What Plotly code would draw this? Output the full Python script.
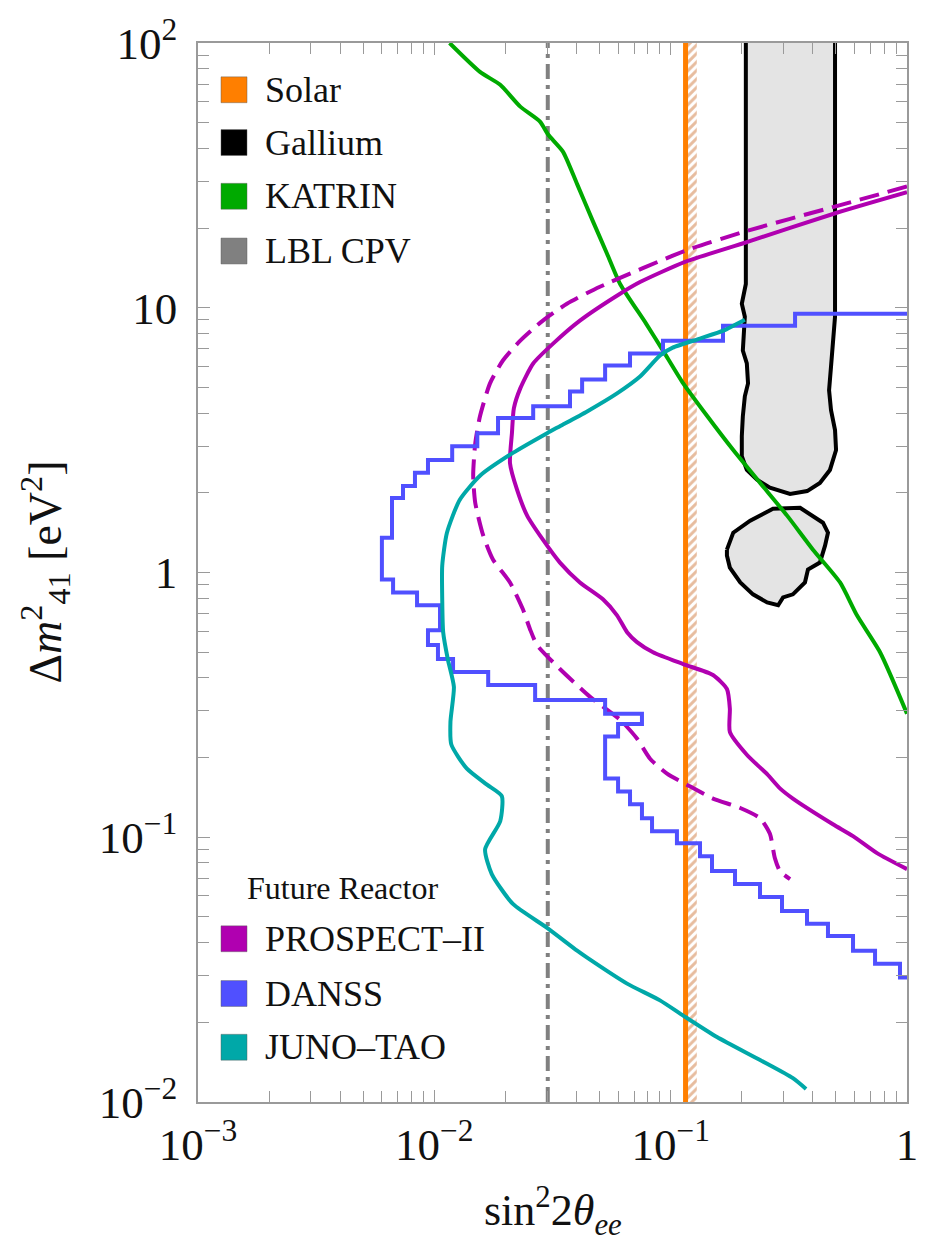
import plotly.graph_objects as go

# ---------------- data (sin^2 2theta_ee , Delta m^2_41 [eV^2]) ----------------
x_limits = [1e-3, 1.0]
y_limits = [1e-2, 1e2]

x_tickvals = [1e-3, 1e-2, 1e-1, 1.0]
x_ticktext = ["10<sup>\u22123</sup>", "10<sup>\u22122</sup>", "10<sup>\u22121</sup>", "1"]
y_tickvals = [1e-2, 1e-1, 1.0, 10.0, 100.0]
y_ticktext = ["10<sup>\u22122</sup>", "10<sup>\u22121</sup>", "1", "10", "10<sup>2</sup>"]

solar_x = 0.1156
solar_band = [0.117, 0.129]
lbl_cpv_x = 0.0302

katrin_x = [0.0116, 0.0156, 0.0190, 0.0231, 0.0280, 0.0303, 0.0350, 0.0402, 0.0469, 0.0538,
            0.0611, 0.0787, 0.0928, 0.113, 0.143, 0.184, 0.239, 0.311, 0.400, 0.521,
            0.614, 0.769, 1.0]
katrin_y = [100, 77.8, 69.5, 57.5, 50.5, 45.1, 38.9, 29.3, 21.2, 16.0,
            12.3, 8.71, 6.89, 5.18, 3.89, 2.90, 2.18, 1.64, 1.22, 0.917,
            0.689, 0.500, 0.293]

gallium_upper_x = [0.208, 0.208, 0.200, 0.206, 0.202, 0.210, 0.2125, 0.206, 0.202, 0.200,
                   0.200, 0.210, 0.232, 0.263, 0.320, 0.378, 0.428, 0.472, 0.501, 0.496,
                   0.477, 0.468, 0.477, 0.486, 0.496, 0.496, 0.496]
gallium_upper_y = [100, 12.3, 10.35, 9.25, 6.89, 6.16, 5.18, 4.63, 3.89, 3.27,
                   2.75, 2.44, 2.24, 2.09, 1.98, 2.03, 2.18, 2.44, 2.90, 3.45,
                   4.10, 4.88, 6.00, 7.14, 9.25, 12.3, 100]

gallium_lower_x = [0.173, 0.184, 0.217, 0.271, 0.353, 0.441, 0.463, 0.450, 0.428, 0.381,
                   0.370, 0.329, 0.299, 0.285, 0.256, 0.223, 0.197, 0.178, 0.173]
gallium_lower_y = [1.22, 1.414, 1.569, 1.740, 1.755, 1.542, 1.414, 1.263, 1.090, 1.026,
                   0.917, 0.827, 0.805, 0.752, 0.771, 0.827, 0.917, 1.044, 1.159]

prospect_x = [1.0, 0.486, 0.210, 0.115, 0.0742, 0.0611, 0.0413, 0.0318, 0.0262, 0.0231,
              0.0217, 0.0213, 0.0209, 0.0224, 0.0247, 0.0288, 0.0340, 0.0413, 0.0517, 0.0593,
              0.0654, 0.0720, 0.0842, 0.113, 0.151, 0.173, 0.178, 0.178, 0.210, 0.256,
              0.290, 0.329, 0.486, 0.591, 0.747, 1.0]
prospect_y = [27.3, 22.6, 17.7, 14.9, 12.5, 11.3, 8.94, 7.32, 6.16, 4.96,
              4.17, 3.36, 2.59, 2.05, 1.64, 1.33, 1.09, 0.917, 0.792, 0.689,
              0.595, 0.546, 0.500, 0.451, 0.410, 0.363, 0.306, 0.250, 0.205, 0.173,
              0.153, 0.140, 0.112, 0.101, 0.0871, 0.0758]

prospect_alt_x = [1.0, 0.486, 0.210, 0.115, 0.0502, 0.0364, 0.0288, 0.0231, 0.0195, 0.0172,
                  0.0156, 0.0149, 0.0146, 0.0149, 0.0161, 0.0177, 0.0209, 0.0237, 0.0254, 0.0272,
                  0.0340, 0.0456, 0.0611, 0.0720, 0.0818, 0.0965, 0.117, 0.151, 0.197, 0.239,
                  0.263, 0.276, 0.290, 0.320]
prospect_alt_y = [28.7, 24.0, 19.5, 16.4, 12.0, 10.35, 8.94, 7.51, 6.32, 5.18,
                  3.89, 3.08, 2.32, 1.83, 1.38, 1.12, 0.917, 0.726, 0.611, 0.532,
                  0.432, 0.339, 0.278, 0.236, 0.198, 0.174, 0.158, 0.140, 0.129, 0.118,
                  0.103, 0.0834, 0.0745, 0.0695]

# DANSS contour: step corners (horizontal then vertical)
danss_x = [1.0, 0.336, 0.1665, 0.0928, 0.0673, 0.0528, 0.0422, 0.0375, 0.0262, 0.0186,
           0.0152, 0.0119, 0.0094, 0.00828, 0.00737, 0.00662, 0.0060, 0.00669, 0.00845, 0.01057,
           0.0094, 0.01036, 0.0120, 0.0169, 0.0267, 0.0528, 0.0756, 0.0599, 0.0528, 0.0599,
           0.0673, 0.0756, 0.0834, 0.1063, 0.1331, 0.1496, 0.1872, 0.2388, 0.2959, 0.3775,
           0.463, 0.591, 0.7325, 0.934, 1.0]
danss_y = [9.49, 8.56, 7.51, 6.72, 6.05, 5.36, 4.83, 4.25, 3.83, 3.36,
           3.00, 2.66, 2.38, 2.12, 1.91, 1.354, 0.941, 0.841, 0.752, 0.605,
           0.532, 0.471, 0.421, 0.376, 0.330, 0.2925, 0.268, 0.240, 0.1667, 0.1489,
           0.1331, 0.1179, 0.1053, 0.0949, 0.0848, 0.0745, 0.0666, 0.0595, 0.0527, 0.0471,
           0.0424, 0.0373, 0.0333, 0.0295, 0.0295]

juno_x = [0.206, 0.167, 0.133, 0.102, 0.0901, 0.0742, 0.0593, 0.0443, 0.0340, 0.0300,
          0.0215, 0.0156, 0.0128, 0.0113, 0.0108, 0.0108, 0.0109, 0.0114, 0.0121, 0.0117,
          0.0118, 0.0137, 0.0167, 0.0193, 0.0190, 0.0164, 0.0175, 0.0215, 0.0300, 0.0402,
          0.0443, 0.0654, 0.0901, 0.113, 0.157, 0.239, 0.329, 0.374]
juno_y = [9.01, 8.19, 7.65, 7.07, 6.60, 5.50, 4.75, 4.06, 3.57, 3.36,
          2.83, 2.32, 1.88, 1.41, 1.06, 0.792, 0.595, 0.471, 0.370, 0.273,
          0.224, 0.182, 0.158, 0.143, 0.115, 0.0901, 0.0726, 0.0560, 0.0455, 0.0373,
          0.0351, 0.0280, 0.0242, 0.0212, 0.0176, 0.0144, 0.0123, 0.0112]

legend_top_labels = ["Solar", "Gallium", "KATRIN", "LBL CPV"]
legend_bottom_title = "Future Reactor"
legend_bottom_labels = ["PROSPECT\u2013II", "DANSS", "JUNO\u2013TAO"]

# ---------------- styles ----------------
ORANGE = "#ff7f00"
HATCH = "#cf7a3e"
BLACK = "#000000"
GREEN = "#00aa00"
GRAY = "#808080"
MAGENTA = "#b000b0"
BLUE = "#5050ff"
TEAL = "#00a8a8"
GAL_FILL = "#e4e4e4"
AXC = "#9a9a9a"
FONT = "Liberation Serif"

legend_top_colors = [ORANGE, BLACK, GREEN, GRAY]
legend_bottom_colors = [MAGENTA, BLUE, TEAL]

W, H = 930, 1250
L, R, T, B = 198, 23, 38, 148
PW, PH = W - L - R, H - T - B


def px(xp):
    return (xp - L) / PW


def py(yp):
    return (H - B - yp) / PH


fig = go.Figure()

# Gallium regions (fill)
fig.add_trace(go.Scatter(x=gallium_upper_x, y=gallium_upper_y, fill="toself", fillcolor=GAL_FILL,
                         mode="none", hoverinfo="skip"))
fig.add_trace(go.Scatter(x=gallium_lower_x, y=gallium_lower_y, fill="toself", fillcolor=GAL_FILL,
                         mode="none", hoverinfo="skip"))

# Solar hatched band and line
fig.add_trace(go.Scatter(x=[solar_band[0], solar_band[1], solar_band[1], solar_band[0]],
                         y=[y_limits[0], y_limits[0], y_limits[1], y_limits[1]],
                         fill="toself", mode="none", fillcolor="rgba(0,0,0,0)",
                         fillpattern=dict(shape="/", fgcolor=HATCH, bgcolor="rgba(255,255,255,0)",
                                          size=6, solidity=0.5),
                         hoverinfo="skip"))
fig.add_trace(go.Scatter(x=[solar_x, solar_x], y=y_limits, mode="lines",
                         line=dict(color=ORANGE, width=5), hoverinfo="skip"))

# Gallium outlines
fig.add_trace(go.Scatter(x=gallium_upper_x, y=gallium_upper_y, mode="lines",
                         line=dict(color=BLACK, width=4), hoverinfo="skip"))
fig.add_trace(go.Scatter(x=gallium_lower_x + gallium_lower_x[:1], y=gallium_lower_y + gallium_lower_y[:1],
                         mode="lines", line=dict(color=BLACK, width=4), hoverinfo="skip"))

# LBL CPV
fig.add_trace(go.Scatter(x=[lbl_cpv_x, lbl_cpv_x], y=y_limits, mode="lines",
                         line=dict(color=GRAY, width=4, dash="15px,6px,4px,6px"), hoverinfo="skip"))

# KATRIN
fig.add_trace(go.Scatter(x=katrin_x, y=katrin_y, mode="lines",
                         line=dict(color=GREEN, width=4, shape="spline", smoothing=0.6), hoverinfo="skip"))

# PROSPECT-II
fig.add_trace(go.Scatter(x=prospect_alt_x, y=prospect_alt_y, mode="lines",
                         line=dict(color=MAGENTA, width=4, dash="20px,9px", shape="spline", smoothing=0.6),
                         hoverinfo="skip"))
fig.add_trace(go.Scatter(x=prospect_x, y=prospect_y, mode="lines",
                         line=dict(color=MAGENTA, width=4, shape="spline", smoothing=0.6), hoverinfo="skip"))

# DANSS
fig.add_trace(go.Scatter(x=danss_x, y=danss_y, mode="lines",
                         line=dict(color=BLUE, width=4, shape="hv"), hoverinfo="skip"))

# JUNO-TAO
fig.add_trace(go.Scatter(x=juno_x, y=juno_y, mode="lines",
                         line=dict(color=TEAL, width=4, shape="spline", smoothing=0.6), hoverinfo="skip"))

# ---------------- legends (drawn manually) ----------------
shapes = []
annotations = []
sq_x0, sq_x1 = 221, 247
text_x = 263
top_rows = [85, 138, 192, 247]
bottom_title_y = 887
bottom_rows = [938, 993, 1047]


def add_item(label, color, ycen):
    shapes.append(dict(type="rect", xref="paper", yref="paper",
                       x0=px(sq_x0), x1=px(sq_x1), y0=py(ycen + 13), y1=py(ycen - 13),
                       fillcolor=color, line=dict(color="rgba(90,90,90,0.45)", width=1), layer="above"))
    annotations.append(dict(text=label, xref="paper", yref="paper", x=px(text_x), y=py(ycen),
                            xanchor="left", yanchor="middle", showarrow=False,
                            font=dict(family=FONT, size=36, color="#111111")))


for lab, col, yc in zip(legend_top_labels, legend_top_colors, top_rows):
    add_item(lab, col, yc)
annotations.append(dict(text=legend_bottom_title, xref="paper", yref="paper", x=px(245), y=py(bottom_title_y),
                        xanchor="left", yanchor="middle", showarrow=False,
                        font=dict(family=FONT, size=32, color="#111111")))
for lab, col, yc in zip(legend_bottom_labels, legend_bottom_colors, bottom_rows):
    add_item(lab, col, yc)

# axis titles
annotations.append(dict(text="sin<sup>2</sup>2<i>\u03b8</i><sub><i>ee</i></sub>", xref="paper", yref="paper",
                        x=0.5, y=py(1212), xanchor="center", yanchor="middle", showarrow=False,
                        font=dict(family=FONT, size=44, color="#111111")))
annotations.append(dict(text="\u0394<i>m</i><sup>2</sup><sub>41</sub> [eV<sup>2</sup>]", xref="paper", yref="paper",
                        x=px(45), y=0.5, xanchor="center", yanchor="middle", showarrow=False, textangle=-90,
                        font=dict(family=FONT, size=46, color="#111111")))

x_minor = [m * d for d in (1e-3, 1e-2, 1e-1) for m in range(2, 10)]
y_minor = [m * d for d in (1e-2, 1e-1, 1.0, 10.0) for m in range(2, 10)]

axis_common = dict(type="log", showgrid=False, zeroline=False, showline=True, linecolor=AXC, linewidth=1.5,
                   mirror="ticks", ticks="inside", ticklen=12, tickwidth=1.3, tickcolor=AXC,
                   tickfont=dict(family=FONT, size=45, color="#111111"), tickmode="array")

fig.update_layout(
    width=W, height=H,
    margin=dict(l=L, r=R, t=T, b=B, pad=0),
    paper_bgcolor="white", plot_bgcolor="white",
    showlegend=False,
    shapes=shapes, annotations=annotations,
    xaxis=dict(**axis_common, range=[-3, 0], tickvals=x_tickvals, ticktext=x_ticktext,
               ticklabelstandoff=2,
               minor=dict(tickmode="array", tickvals=x_minor, ticks="inside", ticklen=11,
                          tickwidth=1.3, tickcolor=AXC)),
    yaxis=dict(**axis_common, range=[-2, 2], tickvals=y_tickvals, ticktext=y_ticktext,
               ticklabelstandoff=10,
               minor=dict(tickmode="array", tickvals=y_minor, ticks="inside", ticklen=11,
                          tickwidth=1.3, tickcolor=AXC)),
)

fig.write_html("out.html")
